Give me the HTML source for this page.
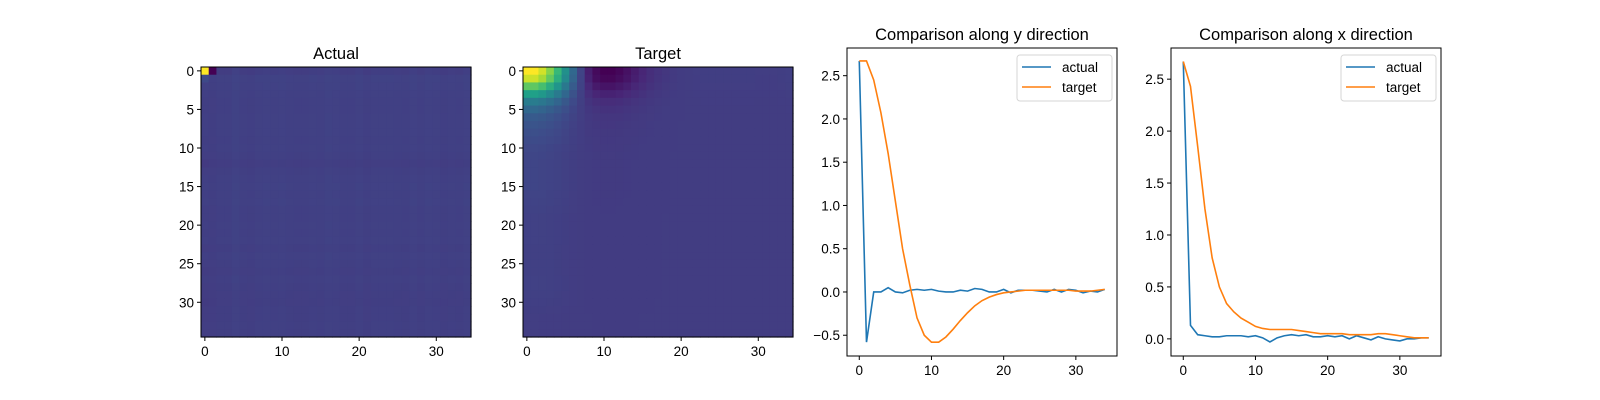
<!DOCTYPE html>
<html><head><meta charset="utf-8"><style>
html,body{margin:0;padding:0;background:#fff}
svg{display:block;font-family:"Liberation Sans","DejaVu Sans",sans-serif}
</style></head><body>
<svg id="fig" width="1600" height="400" viewBox="0 0 1600 400"></svg>
<script>
const idx = Array.from({length:35},(_,i)=>i);
const actualY = [2.67,-0.58,0.0,0.0,0.05,0.0,-0.01,0.02,0.03,0.02,0.03,0.01,0.0,0.0,0.02,0.01,0.04,0.03,0.0,0.0,0.03,-0.01,0.02,0.02,0.02,0.01,0.0,0.03,0.0,0.03,0.02,-0.01,0.01,0.0,0.03];
const targetY = [2.67,2.67,2.45,2.07,1.6,1.05,0.5,0.08,-0.3,-0.5,-0.58,-0.58,-0.52,-0.43,-0.33,-0.24,-0.16,-0.1,-0.06,-0.03,-0.01,0.0,0.01,0.02,0.02,0.02,0.02,0.02,0.02,0.02,0.01,0.01,0.01,0.02,0.03];
const actualX = [2.67,0.13,0.04,0.03,0.02,0.02,0.03,0.03,0.03,0.02,0.03,0.01,-0.03,0.01,0.03,0.04,0.03,0.04,0.02,0.02,0.03,0.02,0.03,0.0,0.03,0.01,-0.01,0.02,0.0,-0.01,-0.02,0.0,0.0,0.01,0.01];
const targetX = [2.67,2.43,1.85,1.25,0.78,0.5,0.34,0.26,0.2,0.16,0.12,0.1,0.09,0.09,0.09,0.09,0.08,0.07,0.06,0.05,0.05,0.05,0.05,0.04,0.04,0.04,0.04,0.05,0.05,0.04,0.03,0.02,0.01,0.01,0.01];
const lineYTicks = [-0.5,0.0,0.5,1.0,1.5,2.0,2.5];
const lineXYTicks = [0.0,0.5,1.0,1.5,2.0,2.5];
const xTicks = [0,10,20,30];
const imgYTicks = [0,5,10,15,20,25,30];

const NS='http://www.w3.org/2000/svg';
const svg=document.getElementById('fig');
function el(tag,attrs,parent){const e=document.createElementNS(NS,tag);for(const k in attrs)e.setAttribute(k,attrs[k]);(parent||svg).appendChild(e);return e;}
function txt(s,attrs,parent){const e=el('text',attrs,parent);e.textContent=s;return e;}

const VIR=[[68,1,84],[72,40,120],[62,74,137],[49,104,142],[38,130,142],[31,158,137],[53,183,121],[109,205,89],[180,222,44],[253,231,37]];
function viridis(t){t=Math.max(0,Math.min(1,t));const p=t*(VIR.length-1);const i=Math.min(VIR.length-2,Math.floor(p));const f=p-i;const a=VIR[i],b=VIR[i+1];return 'rgb('+a.map((v,k)=>Math.round(v+(b[k]-v)*f)).join(',')+')';}
const fmt=v=>(v<0?'\u2212':'')+Math.abs(v).toFixed(1);
const clip=(v,a,b)=>Math.max(a,Math.min(b,v));

function heat(x0,y0,size,title,valFn,name){
  const g=el('g',{},svg);
  
  
  const c=size/35, vmin=-0.58, vmax=2.67;
  for(let i=0;i<35;i++)for(let j=0;j<35;j++){
    el('rect',{x:x0+j*c,y:y0+i*c,width:c+0.6,height:c+0.6,fill:viridis((valFn(i,j)-vmin)/(vmax-vmin))},g);
  }
  el('rect',{x:x0,y:y0,width:size,height:size,fill:'none',stroke:'#000','stroke-width':1},g);
  const t=txt(title,{x:x0+size/2,y:y0-8,'text-anchor':'middle','font-size':16.5},g);
  
  
  xTicks.forEach(v=>{const x=x0+(v+0.5)*c;el('line',{x1:x,x2:x,y1:y0+size,y2:y0+size+4,stroke:'#000'},g);
    const l=txt(v,{x:x,y:y0+size+19,'text-anchor':'middle','font-size':13.5},g);
    
    });
  imgYTicks.forEach(v=>{const y=y0+(v+0.5)*c;el('line',{x1:x0-4,x2:x0,y1:y,y2:y,stroke:'#000'},g);
    const l=txt(v,{x:x0-7,y:y+5,'text-anchor':'end','font-size':13.5},g);
    
    });
}
heat(201,67,270,'Actual',(i,j)=>{if(i===0)return actualY[j];if(j===0)return actualX[i];return 0.02+(clip(actualY[j],-0.03,0.05)+clip(actualX[i],-0.03,0.05))*0.5;},'actual-heatmap');
heat(523,67,270,'Target',(i,j)=>{return targetY[j]*targetX[i]/2.67;},'target-heatmap');

function linePanel(x0,x1,y0,y1,ymin,ymax,yticks,title,sA,sT,name,legX){
  const g=el('g',{},svg);
  
  
  const xm=-1.7,xM=35.7;
  const sx=v=>x0+(v-xm)/(xM-xm)*(x1-x0);
  const sy=v=>y1-(v-ymin)/(ymax-ymin)*(y1-y0);
  const cp=el('clipPath',{id:'cp'+name},g);el('rect',{x:x0,y:y0,width:x1-x0,height:y1-y0},cp);
  [[sA,'#1f77b4','actual'],[sT,'#ff7f0e','target']].forEach(([s,c,n])=>{
    const p=el('polyline',{points:idx.map(i=>sx(i)+','+sy(s[i])).join(' '),fill:'none',stroke:c,'stroke-width':1.6,'clip-path':'url(#cp'+name+')'},g);
    
    
  });
  el('rect',{x:x0,y:y0,width:x1-x0,height:y1-y0,fill:'none',stroke:'#000','stroke-width':1},g);
  const t=txt(title,{x:(x0+x1)/2,y:y0-8,'text-anchor':'middle','font-size':16.5},g);
  
  
  xTicks.forEach(v=>{const x=sx(v);el('line',{x1:x,x2:x,y1:y1,y2:y1+4,stroke:'#000'},g);
    const l=txt(v,{x:x,y:y1+19,'text-anchor':'middle','font-size':13.5},g);
    
    });
  yticks.forEach(v=>{const y=sy(v);el('line',{x1:x0-4,x2:x0,y1:y,y2:y,stroke:'#000'},g);
    const l=txt(fmt(v),{x:x0-7,y:y+5,'text-anchor':'end','font-size':13.5},g);
    
    });
  const lg=el('g',{},g);
  
  
  el('rect',{x:legX,y:y0+7,width:x1-5-legX,height:46,rx:3,fill:'#fff',stroke:'#ccc','stroke-opacity':0.8},lg);
  [['actual','#1f77b4',y0+19],['target','#ff7f0e',y0+39]].forEach(([n,c,y])=>{
    el('line',{x1:legX+5,x2:legX+34,y1:y,y2:y,stroke:c,'stroke-width':1.6},lg);
    const l=txt(n,{x:legX+45,y:y+5,'font-size':13.5},lg);
    
    
  });
}
linePanel(847,1117,48,356,-0.74,2.82,lineYTicks,'Comparison along y direction',actualY,targetY,'y-comparison-chart',1017);
linePanel(1171,1441,48,356,-0.165,2.80,lineXYTicks,'Comparison along x direction',actualX,targetX,'x-comparison-chart',1341);
</script>
</body></html>
